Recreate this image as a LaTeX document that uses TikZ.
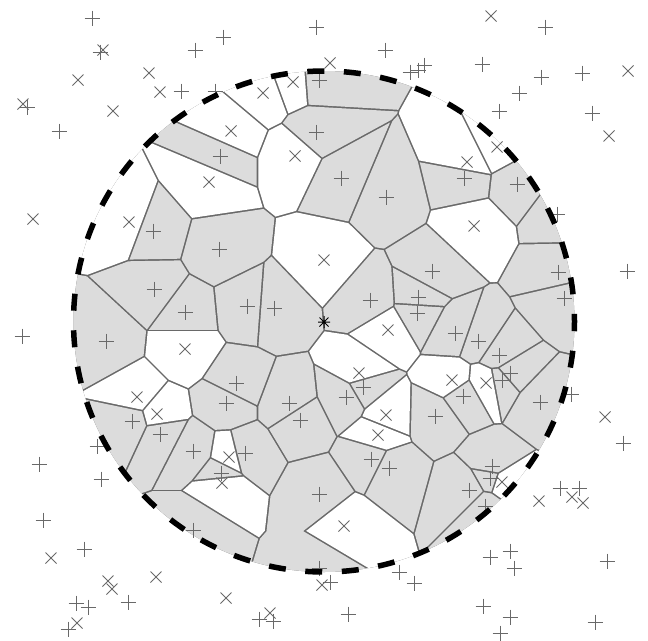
\documentclass[tikz,border=0pt]{standalone}
\begin{document}
\begin{tikzpicture}[x=1pt,y=-1pt]
\definecolor{cellg}{RGB}{220,220,220}
\definecolor{cellw}{RGB}{255,255,255}
\definecolor{edgec}{RGB}{105,105,105}
\definecolor{markc}{RGB}{105,105,105}
\tikzset{
  cellborder/.style={fill=edgec},
  mkline/.style={draw=markc, line width=1pt},
  starline/.style={draw=black, line width=1pt},
  boundary/.style={draw=black, line width=5.5pt, dash pattern=on 17pt off 19.6pt, dash phase=7.3pt}
}
\useasboundingbox[fill=white] (0,0) rectangle (648,640);
\def\cx{324}\def\cy{321.5}\def\R{250.5}
\def\sites{319/80/g, 293/82/w, 263/93/w, 231/131/w, 316/132/g, 220/156/g, 295/156/w, 341/178/g, 386/197/g, 497/147/w, 467/162/w, 464/178/g, 517/184/g, 209/182/w, 557/214/g, 129/222/w, 153/231/g, 474/226/w, 219/249/g, 324/260/w, 432/271/g, 558/272/g, 154/289/g, 564/298/g, 370/300/g, 418/297/g, 417/313/g, 185/312/g, 247/306/g, 274/308/g, 106/341/g, 185/349/w, 388/330/w, 455/333/g, 478/341/g, 499/355/g, 510/373/g, 502/380/g, 452/380/w, 486/383/w, 463/396/g, 540/402/g, 359/373/w, 363/387/g, 346/397/g, 236/383/g, 226/403/g, 289/403/g, 300/420/g, 386/415/w, 435/416/g, 137/397/w, 157/414/w, 132/421/g, 378/435/w, 160/434/g, 193/451/g, 229/457/w, 245/453/g, 221/473/g, 222/483/w, 371/459/g, 389/468/g, 492/466/g, 490/478/g, 502/482/w, 469/490/g, 485/506/g, 319/494/g, 344/526/w, 193/530/g, 319/568/g}
\def\plusmarks{92/18, 100/52, 195/50, 223/37, 181/91, 27/107, 59/131, 215/91, 316/27, 385/50, 319/80, 410/72, 418/70, 424/65, 545/27, 482/64, 541/77, 582/73, 519/93, 499/111, 592/113, 316/132, 220/156, 341/178, 386/197, 464/178, 517/184, 557/214, 153/231, 219/249, 432/271, 558/272, 627/271, 154/289, 564/298, 370/300, 418/297, 417/313, 185/312, 247/306, 274/308, 106/341, 22/336, 455/333, 478/341, 499/355, 510/373, 502/380, 463/396, 540/402, 571/394, 363/387, 346/397, 236/383, 226/403, 289/403, 300/420, 435/416, 132/421, 623/443, 160/434, 97/446, 101/479, 39/464, 193/451, 245/453, 221/473, 371/459, 389/468, 492/466, 490/478, 469/490, 485/506, 560/488, 579/488, 319/494, 43/520, 193/530, 84/549, 76/603, 88/607, 128/602, 68/629, 319/568, 330/582, 399/572, 414/583, 259/619, 273/621, 348/614, 607/561, 490/557, 510/551, 514/568, 483/606, 510/617, 500/633, 595/622}
\def\crossmarks{103/50, 78/80, 149/73, 160/92, 23/104, 113/111, 330/63, 293/82, 263/93, 491/16, 628/71, 609/136, 231/131, 295/156, 497/147, 467/162, 209/182, 33/219, 129/222, 474/226, 324/260, 185/349, 388/330, 452/380, 486/383, 605/417, 359/373, 386/415, 137/397, 157/414, 378/435, 229/457, 222/483, 502/482, 539/501, 572/497, 583/503, 344/526, 51/558, 108/581, 112/589, 156/577, 77/623, 322/585, 226/598, 270/613}
% Voronoi cells: dark disc, then each cell filled slightly shrunk
\fill[cellborder] (\cx,\cy) circle[radius=\R];
\foreach \xi/\yi/\ti in \sites {
  \begin{scope}
    \foreach \xj/\yj/\tj in \sites {
      \pgfmathsetmacro\ddx{(\xj-\xi)/100}
      \pgfmathsetmacro\ddy{(\yj-\yi)/100}
      \pgfmathsetmacro\dd{\ddx*\ddx+\ddy*\ddy}
      \pgfmathtruncatemacro\ok{and(\dd>0.0001,\dd<6.25)}
      \ifnum\ok=1
        \pgfmathsetmacro\dn{sqrt(\dd)}
        \pgfmathsetmacro\ux{\ddx/\dn}
        \pgfmathsetmacro\uy{\ddy/\dn}
        \pgfmathsetmacro\mx{(\xi+\xj)/2-0.85*\ux}
        \pgfmathsetmacro\my{(\yi+\yj)/2-0.85*\uy}
        \clip ({\mx-700*\uy},{\my+700*\ux}) -- ({\mx-700*\uy-700*\ux},{\my+700*\ux-700*\uy}) -- ({\mx+700*\uy-700*\ux},{\my-700*\ux-700*\uy}) -- ({\mx+700*\uy},{\my-700*\ux}) -- cycle;
      \fi
    }
    \fill[cell\ti] (\cx,\cy) circle[radius=\R];
  \end{scope}
}
% markers
\foreach \x/\y in \plusmarks {
  \draw[mkline] ({\x-7.5},\y) -- ({\x+7.5},\y) (\x,{\y-7.5}) -- (\x,{\y+7.5});
}
\foreach \x/\y in \crossmarks {
  \draw[mkline] ({\x-5.5},{\y-5.5}) -- ({\x+5.5},{\y+5.5}) ({\x-5.5},{\y+5.5}) -- ({\x+5.5},{\y-5.5});
}
% query point
\coordinate (q) at (324,322);
\draw[starline] ([xshift=-6pt]q) -- ([xshift=6pt]q) ([yshift=-6pt]q) -- ([yshift=6pt]q)
  ([shift={(-4.5pt,-4.5pt)}]q) -- ([shift={(4.5pt,4.5pt)}]q) ([shift={(-4.5pt,4.5pt)}]q) -- ([shift={(4.5pt,-4.5pt)}]q);
% dashed range circle
\coordinate (c) at (\cx,\cy);
\draw[boundary] (c) circle[radius=\R];
\end{tikzpicture}
\end{document}
